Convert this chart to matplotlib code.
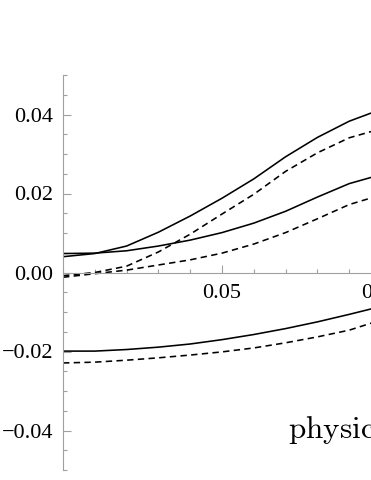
import matplotlib.pyplot as plt
from matplotlib.ticker import MultipleLocator, FixedLocator, FuncFormatter

# values (x grid shared by all curves)
x = [0.0, 0.01, 0.02, 0.03, 0.04, 0.05, 0.06, 0.07, 0.08, 0.09, 0.097]
steep_solid = [0.0040, 0.0048, 0.0067, 0.0102, 0.0143, 0.0188, 0.0237, 0.0293, 0.0342, 0.0383, 0.0404]
steep_dashed = [-0.0008, 0.0000, 0.0016, 0.0052, 0.0097, 0.0148, 0.0198, 0.0256, 0.0303, 0.0341, 0.0357]
flat_solid = [0.0048, 0.0049, 0.0055, 0.0067, 0.0082, 0.0101, 0.0125, 0.0155, 0.0191, 0.0225, 0.0241]
flat_dashed = [-0.0012, -0.0003, 0.0006, 0.0019, 0.0032, 0.0049, 0.0072, 0.0101, 0.0136, 0.0172, 0.0189]
low_solid = [-0.0199, -0.0199, -0.0195, -0.0189, -0.0181, -0.0170, -0.0157, -0.0142, -0.0125, -0.0106, -0.0092]
low_dashed = [-0.0229, -0.0227, -0.0222, -0.0216, -0.0209, -0.0201, -0.0191, -0.0178, -0.0163, -0.0146, -0.0128]

x_major = [0.05, 0.10]
y_major = [-0.04, -0.02, 0.0, 0.02, 0.04]

plt.rcParams['font.family'] = ['Liberation Serif', 'DejaVu Serif']
plt.rcParams['mathtext.fontset'] = 'cm'

fig = plt.figure(figsize=(3.71, 4.8), dpi=100)
# axes box: left spine at x=63px, y range from 75px to 470px (from top)
ax = fig.add_axes([63 / 371, 10 / 480, 1 - 63 / 371, 395 / 480])

dash = (0, (4, 2.7))
for ys in (steep_solid, flat_solid, low_solid):
    ax.plot(x, ys, color='black', lw=1.15)
for ys in (steep_dashed, flat_dashed, low_dashed):
    ax.plot(x, ys, color='black', lw=1.15, linestyle=dash)

ax.set_xlim(0, (371 - 63) / 3180)
ax.set_ylim(-0.05, 0.05)

# Mathematica-style axes crossing at the origin
ax.spines['top'].set_visible(False)
ax.spines['right'].set_visible(False)
ax.spines['bottom'].set_position(('data', 0))
axis_grey = '#a0a0a0'
for s in ('left', 'bottom'):
    ax.spines[s].set_color(axis_grey)
    ax.spines[s].set_linewidth(0.8)

fmt = FuncFormatter(lambda v, p: f'{v:.2f}'.replace('-', '\u2212') if abs(v) > 1e-9 else '0.00')
ax.xaxis.set_major_locator(FixedLocator(x_major))
ax.xaxis.set_minor_locator(MultipleLocator(0.01))
ax.yaxis.set_major_locator(FixedLocator(y_major))
ax.yaxis.set_minor_locator(MultipleLocator(0.005))
ax.xaxis.set_major_formatter(fmt)
ax.yaxis.set_major_formatter(fmt)

ax.tick_params(which='both', direction='in', color=axis_grey, width=0.8, labelsize=16)
ax.tick_params(which='major', length=5.5)
ax.tick_params(which='minor', length=3)
ax.tick_params(axis='x', pad=8)
ax.tick_params(axis='y', pad=7)

# the 0.10 label sits past the right edge, only its first digit shows
ax.annotate('0.10', xy=(0.10, 0), xytext=(0, -8), textcoords='offset points',
            ha='center', va='top', fontsize=16, annotation_clip=False)

ax.text(0.0706, -0.0420, r'$\mathrm{physical}$', fontsize=22.5, ha='left', va='baseline')

fig.savefig('out.png', dpi=100)
